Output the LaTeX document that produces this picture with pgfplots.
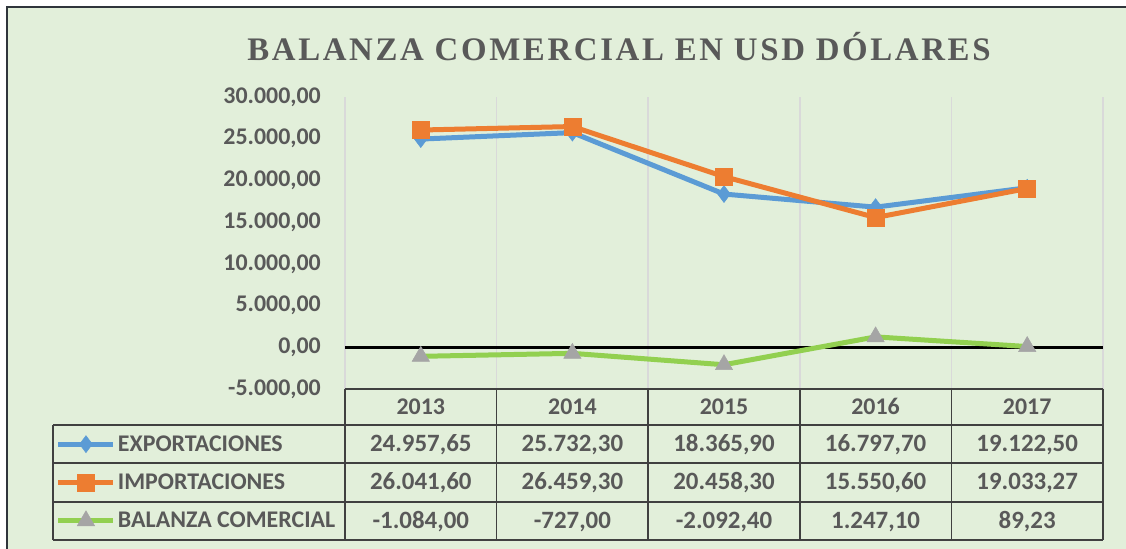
\documentclass[border=0pt]{standalone}
\usepackage{fontspec}
\setmainfont{Carlito}
\newfontfamily\titlefont{Liberation Serif}[LetterSpace=8]
\usepackage{pgfplots}
\pgfplotsset{compat=1.18}
\definecolor{bgreen}{HTML}{E2EFDA}
\definecolor{txtgray}{HTML}{595959}
\definecolor{expblue}{HTML}{5B9BD5}
\definecolor{imporange}{HTML}{ED7D31}
\definecolor{balgreen}{HTML}{92D050}
\definecolor{markgray}{HTML}{A5A5A5}
\definecolor{gridgray}{HTML}{D9D9D9}
\definecolor{tabline}{HTML}{404040}
\definecolor{framecol}{HTML}{2F353B}

\newcommand{\tabfont}{\bfseries\fontsize{24}{28}\selectfont\color{txtgray}}
\newcommand{\valfont}{\bfseries\fontsize{25}{29}\selectfont\color{txtgray}}

\begin{document}
\begin{tikzpicture}
\useasboundingbox (0,0) rectangle (1126bp,549bp);
\fill[white] (0,0) rectangle (1126bp,549bp);
\fill[bgreen] (7bp,0) rectangle (1126bp,542bp);
\draw[framecol, line width=2.5bp] (7bp,0) -- (7bp,542bp) -- (1126bp,542bp);

\begin{axis}[
  at={(345bp,160bp)}, anchor=south west,
  scale only axis, width=758bp, height=292bp,
  xmin=0.5, xmax=5.5, ymin=-5000, ymax=30000,
  xtick={0.5,1.5,2.5,3.5,4.5,5.5}, xticklabels={},
  ytick={-5000,0,...,30000},
  scaled y ticks=false,
  xmajorgrids, major grid style={gridgray, line width=1.5bp},
  axis line style={draw=none}, major tick length=0pt,
  y tick label style={font=\tabfont, inner sep=0pt, xshift=-24bp},
  clip=false,
  legend style={at={(axis description cs:-0.3813,-0.1233)}, anchor=north west,
    draw=none, fill=none, inner sep=0pt, outer sep=0pt, row sep=0pt,
    column sep=0bp, font=\tabfont, text=txtgray,
    cells={anchor=west, inner sep=0pt, minimum height=38.3bp}},
  legend image code/.code={\draw[mark repeat=2,mark phase=2] plot coordinates {(0bp,0bp) (27.5bp,0bp) (55bp,0bp)};},
  /pgf/number format/.cd, use comma, 1000 sep={.}, fixed, fixed zerofill,
  precision=2, assume math mode=true
]
% zero line
\addplot[black, line width=3bp, forget plot] coordinates {(0.5,0) (5.5,0)};

\addplot[expblue, line width=5bp, mark=diamond*, mark size=8.5bp,
  mark options={fill=expblue, draw=expblue, line width=0.5bp}]
  coordinates {(1,24957.65) (2,25732.30) (3,18365.90) (4,16797.70) (5,19122.50)};
\addplot[imporange, line width=5bp, mark=square*, mark size=8.5bp,
  mark options={fill=imporange, draw=imporange, line width=0.5bp}]
  coordinates {(1,26041.60) (2,26459.30) (3,20458.30) (4,15550.60) (5,19033.27)};
\addplot[balgreen, line width=5bp, mark=triangle*, mark size=10bp,
  mark options={fill=markgray, draw=markgray, line width=0.5bp}]
  coordinates {(1,-1084.00) (2,-727.00) (3,-2092.40) (4,1247.10) (5,89.23)};
\legend{EXPORTACIONES, IMPORTACIONES, BALANZA COMERCIAL}
\end{axis}

\begin{scope}[x=1bp, y=-1bp, yshift=549bp]
  % title
  \node[text=txtgray, inner sep=0pt, text height=22bp, text depth=0pt] at (619,50)
    {\titlefont\bfseries\fontsize{33}{38}\selectfont BALANZA COMERCIAL EN USD DÓLARES};
  % data table
  \begin{scope}[tabline, line width=1.5bp]
    \draw (345,389) -- (1103,389);
    \draw (53,425) -- (1103,425);
    \draw (53,463) -- (1103,463);
    \draw (53,502) -- (1103,502);
    \draw (53,540) -- (1103,540);
    \draw (53,425) -- (53,540);
    \foreach \xx in {345,496.6,648.2,799.8,951.4,1103} \draw (\xx,389) -- (\xx,540);
  \end{scope}
  \begin{scope}[every node/.style={inner sep=0pt, text height=15bp, text depth=0pt}]
    \foreach \xx/\yr in {420.8/2013, 572.4/2014, 724.0/2015, 875.6/2016, 1027.2/2017}
      \node[font=\tabfont] at (\xx,407) {\yr};
    \foreach \xx/\va/\vb/\vc in {420.8/24.957{,}65/26.041{,}60/-1.084{,}00,
                                 572.4/25.732{,}30/26.459{,}30/-727{,}00,
                                 724.0/18.365{,}90/20.458{,}30/-2.092{,}40,
                                 875.6/16.797{,}70/15.550{,}60/1.247{,}10,
                                 1027.2/19.122{,}50/19.033{,}27/89{,}23} {
      \node[font=\valfont] at (\xx,444) {\va};
      \node[font=\valfont] at (\xx,482.5) {\vb};
      \node[font=\valfont] at (\xx,521) {\vc};
    }
  \end{scope}
\end{scope}
\end{tikzpicture}
\end{document}
